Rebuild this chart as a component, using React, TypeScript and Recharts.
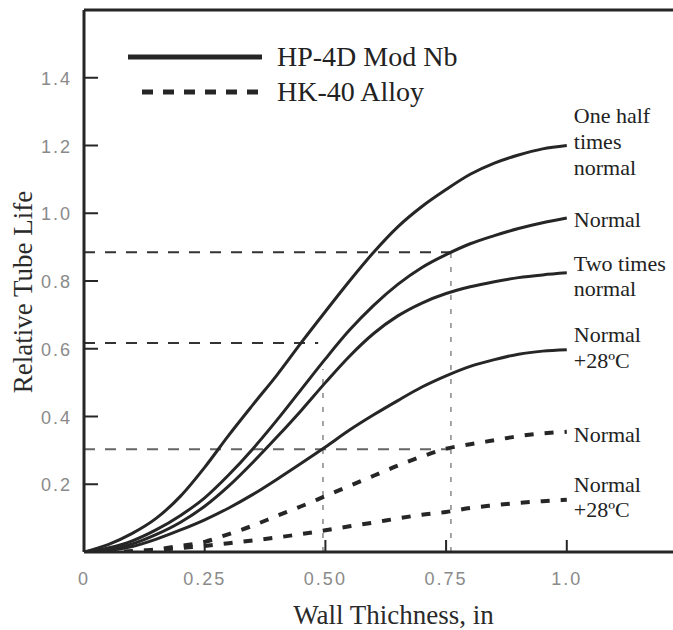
import React from 'react';
import { LineChart, Line, XAxis, YAxis, ReferenceLine, Legend, LabelList, Label } from 'recharts';

// wall thickness (in) and relative tube life per curve
const thickness = [0, 0.05, 0.1, 0.15, 0.2, 0.25, 0.3, 0.35, 0.4, 0.45, 0.5, 0.55, 0.6, 0.65, 0.7, 0.75, 0.8, 0.85, 0.9, 0.95, 1.0];
const halfNormal = [0, 0.022, 0.055, 0.1, 0.165, 0.25, 0.345, 0.435, 0.523, 0.618, 0.71, 0.8, 0.885, 0.96, 1.02, 1.07, 1.115, 1.148, 1.172, 1.19, 1.2];
const normal = [0, 0.012, 0.033, 0.066, 0.108, 0.16, 0.228, 0.305, 0.39, 0.48, 0.57, 0.655, 0.728, 0.79, 0.84, 0.878, 0.91, 0.934, 0.955, 0.972, 0.986];
const twiceNormal = [0, 0.008, 0.024, 0.052, 0.088, 0.135, 0.195, 0.265, 0.34, 0.418, 0.5, 0.578, 0.645, 0.697, 0.735, 0.763, 0.783, 0.798, 0.81, 0.818, 0.824];
const normalPlus28 = [0, 0.004, 0.016, 0.038, 0.065, 0.095, 0.13, 0.17, 0.215, 0.262, 0.31, 0.36, 0.405, 0.447, 0.487, 0.52, 0.548, 0.568, 0.584, 0.593, 0.597];
const hk40Normal = [0, 0, 0.002, 0.008, 0.018, 0.03, 0.053, 0.078, 0.107, 0.135, 0.165, 0.195, 0.225, 0.255, 0.282, 0.305, 0.318, 0.33, 0.342, 0.35, 0.355];
const hk40Plus28 = [0, 0, 0.002, 0.006, 0.012, 0.018, 0.026, 0.034, 0.043, 0.053, 0.064, 0.076, 0.087, 0.099, 0.11, 0.118, 0.13, 0.138, 0.145, 0.15, 0.154];

const xTicks = [0, 0.25, 0.5, 0.75, 1.0];
const xTickLabels = ['0', '0.25', '0.50', '0.75', '1.0'];
const yTicks = [0.2, 0.4, 0.6, 0.8, 1.0, 1.2, 1.4];
const yTickLabels = ['0.2', '0.4', '0.6', '0.8', '1.0', '1.2', '1.4'];

// dashed guide lines
const guideRows = [
  { y: 0.885, xEnd: 0.76 },
  { y: 0.617, xEnd: 0.485 },
  { y: 0.303, xEnd: 0.76 },
];
const guideCols = [
  { x: 0.495, yEnd: 0.54 },
  { x: 0.76, yEnd: 0.885 },
];

const X_MAX = 1.22;
const Y_MAX = 1.6;
const INK = '#262626';
const SERIF = '"Liberation Serif", "Times New Roman", serif';
const SANS = '"Liberation Sans", Arial, sans-serif';

const series = [
  { key: 'halfNormal', values: halfNormal, dashed: false, note: ['One half', 'times', 'normal'], noteDy: [-23, 3, 29] },
  { key: 'normal', values: normal, dashed: false, note: ['Normal'], noteDy: [9] },
  { key: 'twiceNormal', values: twiceNormal, dashed: false, note: ['Two times', 'normal'], noteDy: [-2, 23] },
  { key: 'normalPlus28', values: normalPlus28, dashed: false, note: ['Normal', '+28ºC'], noteDy: [-8, 18] },
  { key: 'hk40Normal', values: hk40Normal, dashed: true, note: ['Normal'], noteDy: [10] },
  { key: 'hk40Plus28', values: hk40Plus28, dashed: true, note: ['Normal', '+28ºC'], noteDy: [-8, 17] },
];

const legendItems = [
  { label: 'HP-4D Mod Nb', dashed: false },
  { label: 'HK-40 Alloy', dashed: true },
];

const X_TITLE = 'Wall Thichness, in';
const Y_TITLE = 'Relative Tube Life';

const rows = thickness.map((x, i) => {
  const row: Record<string, number> = { x };
  series.forEach((s) => {
    row[s.key] = s.values[i];
  });
  return row;
});

const XTick = (props: any) => {
  const { x, y, payload } = props;
  const i = xTicks.indexOf(payload.value);
  return (
    <g>
      {payload.value > 0 && <line x1={x} x2={x} y1={y} y2={y - 12} stroke={INK} strokeWidth={2} />}
      <text x={x} y={y + 33} textAnchor="middle" fontFamily={SANS} fontSize={18} letterSpacing={2} fill="#8a8a8a">
        {xTickLabels[i]}
      </text>
    </g>
  );
};

const YTick = (props: any) => {
  const { x, y, payload } = props;
  const i = yTicks.indexOf(payload.value);
  return (
    <g>
      <line x1={x} x2={x + 14} y1={y} y2={y} stroke={INK} strokeWidth={2} />
      <text x={x - 12} y={y + 7} textAnchor="end" fontFamily={SANS} fontSize={18} letterSpacing={2} fill="#8a8a8a">
        {yTickLabels[i]}
      </text>
    </g>
  );
};

const makeNote = (lines: string[], dys: number[]) => (props: any) => {
  const { x, y, index } = props;
  if (index !== thickness.length - 1) return null;
  return (
    <g>
      {lines.map((t, k) => (
        <text key={k} x={x + 7} y={y + dys[k]} fontFamily={SERIF} fontSize={22} fill="#222">
          {t}
        </text>
      ))}
    </g>
  );
};

const renderLegend = () => (
  <svg width={420} height={80}>
    {legendItems.map((item, k) => {
      const cy = 22 + k * 35;
      return (
        <g key={item.label}>
          <line
            x1={item.dashed ? 22 : 8}
            x2={142}
            y1={cy}
            y2={cy}
            stroke={INK}
            strokeWidth={5}
            strokeDasharray={item.dashed ? '11 10' : undefined}
          />
          <text x={157} y={cy + 9} fontFamily={SERIF} fontSize={28} fill="#222">
            {item.label}
          </text>
        </g>
      );
    })}
  </svg>
);

const App: React.FC = () => {
  return (
    <div style={{ position: 'absolute', left: 0, top: 0, background: '#fff' }}>
      <LineChart width={673} height={630} data={rows} margin={{ top: 10, right: 0, left: 0, bottom: 0 }}>
        <XAxis
          dataKey="x"
          type="number"
          domain={[0, X_MAX]}
          ticks={xTicks}
          interval={0}
          height={78}
          tickSize={0}
          tickMargin={0}
          tick={<XTick />}
          axisLine={{ stroke: INK, strokeWidth: 3 }}
          allowDataOverflow
        >
          <Label
            content={(p: any) => (
              <text
                x={p.viewBox.x + p.viewBox.width / 2 + 15}
                y={p.viewBox.y + p.viewBox.height - 6}
                textAnchor="middle"
                fontFamily={SERIF}
                fontSize={27}
                fill="#2a2a2a"
              >
                {X_TITLE}
              </text>
            )}
          />
        </XAxis>
        <YAxis
          type="number"
          domain={[0, Y_MAX]}
          ticks={yTicks}
          interval={0}
          width={84}
          tickSize={0}
          tickMargin={0}
          tick={<YTick />}
          axisLine={{ stroke: INK, strokeWidth: 3 }}
          allowDataOverflow
        >
          <Label
            content={(p: any) => {
              const cx = 23;
              const cy = p.viewBox.y + p.viewBox.height / 2 + 11;
              return (
                <text
                  x={cx}
                  y={cy}
                  transform={`rotate(-90, ${cx}, ${cy})`}
                  textAnchor="middle"
                  dominantBaseline="central"
                  fontFamily={SERIF}
                  fontSize={27}
                  fill="#2a2a2a"
                >
                  {Y_TITLE}
                </text>
              );
            }}
          />
        </YAxis>
        <ReferenceLine y={Y_MAX} stroke={INK} strokeWidth={3} />
        {guideRows.map((g) => (
          <ReferenceLine
            key={`r${g.y}`}
            segment={[{ x: 0, y: g.y }, { x: g.xEnd, y: g.y }]}
            stroke={g.y < 0.5 ? '#666' : '#333'}
            strokeWidth={2}
            strokeDasharray="11 10"
          />
        ))}
        {guideCols.map((g) => (
          <ReferenceLine
            key={`c${g.x}`}
            segment={[{ x: g.x, y: 0 }, { x: g.x, y: g.yEnd }]}
            stroke="#888"
            strokeWidth={1.5}
            strokeDasharray="5 9"
          />
        ))}
        <Legend
          layout="horizontal"
          verticalAlign="middle"
          align="center"
          wrapperStyle={{ left: 120, top: 35, width: 420, height: 80 }}
          content={renderLegend}
        />
        {series.map((s) => (
          <Line
            key={s.key}
            dataKey={s.key}
            type="monotone"
            stroke={INK}
            strokeWidth={s.dashed ? 4 : 3}
            strokeDasharray={s.dashed ? '9 11' : undefined}
            dot={false}
            activeDot={false}
            isAnimationActive={false}
          >
            <LabelList dataKey={s.key} content={makeNote(s.note, s.noteDy)} />
          </Line>
        ))}
      </LineChart>
    </div>
  );
};

export default App;
